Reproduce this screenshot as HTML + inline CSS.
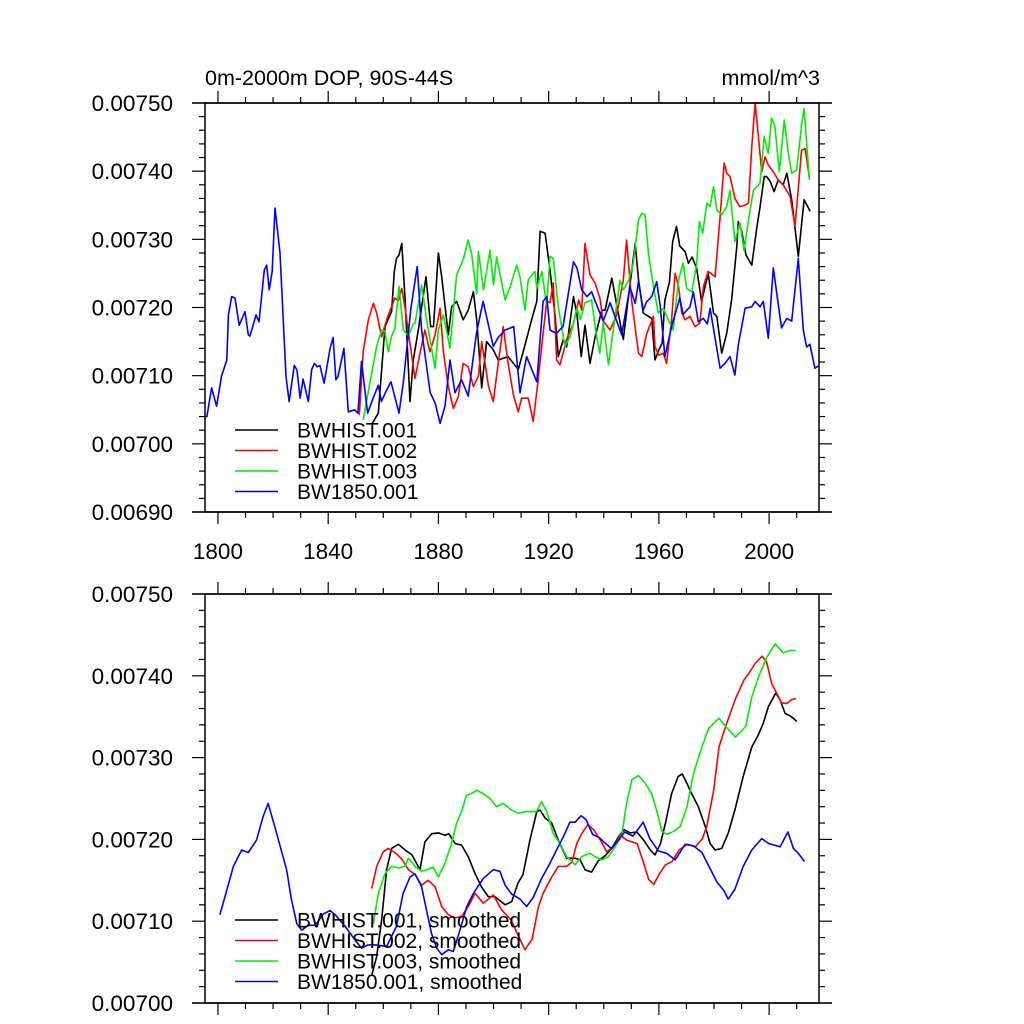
<!DOCTYPE html>
<html><head><meta charset="utf-8">
<style>
html,body{margin:0;padding:0;background:#fff;}
svg{display:block;font-family:"Liberation Sans",Arial,sans-serif;}
</style></head>
<body>
<svg id="chart" width="1024" height="1024" viewBox="0 0 1024 1024">
<text x="205" y="85" font-size="21.5">0m-2000m DOP, 90S-44S</text>
<text x="820" y="85" font-size="21.5" text-anchor="end">mmol/m^3</text>
</svg>
<script>
// values in units of 1e-5 mmol/m^3
const yearsB = [1795.3,1796,1797.7,1799.5,1801.3,1803.2,1803.8,1805,1806.2,1807.7,1809.8,1811,1811.6,1813.8,1814.9,1816.8,1817.7,1818.6,1819.7,1820.7,1822.5,1824.7,1825.8,1827.7,1828.7,1829.8,1830.9,1832.8,1834,1835,1836,1837,1838.5,1840.7,1841.8,1842.8,1843.6,1845.7,1847.3,1849.6,1850.8,1852.1,1854.3,1856.3,1858.2,1859.3,1861.1,1862.8,1865.7,1867.3,1870,1872.3,1873.9,1877,1878.8,1880.6,1882.4,1884.2,1886,1888.4,1890.8,1893.8,1896.2,1899.9,1901.7,1904.2,1907.3,1909.6,1912,1915.7,1918,1919.3,1920.5,1922.8,1925.2,1929,1930.3,1932,1933.9,1935.6,1937.4,1939.8,1942.3,1944.7,1946.5,1949.5,1951.4,1952.6,1954.3,1955.5,1957.4,1959.2,1960.5,1962.2,1964.6,1967.6,1968.8,1971.3,1972.5,1974.3,1976.1,1977.6,1978.6,1982.2,1984,1985.8,1987.6,1988.8,1991.3,1993.7,1994.9,1996.7,1997.9,1999.7,2001.5,2004.5,2006.4,2008.2,2010.6,2012.4,2013.6,2014.8,2016.6,2017.8];
const valsB = [704.0,704.0,708.2,705.5,709.9,712.3,718.9,721.6,721.4,717.4,719.4,716,715.8,718.9,717.9,725.5,726.2,722.6,725.3,734.6,728,709.9,706.2,711.5,710.8,706.7,709.5,706.2,710.9,711.8,711.3,711.5,708.9,714,715.6,709.4,709.9,714,704.7,705,704.5,712.1,704.5,706.7,708.6,706.2,707.8,709.1,704.5,709.1,719.9,726,716.7,707.5,706,703,705.5,712.3,707.5,709.4,707,716.2,720.9,714.3,715.6,716.7,717.2,707.5,712.8,709.1,720.9,721.6,716.7,716.2,717.2,726.7,725.8,722.6,721.6,722.3,720.4,718,720.7,718,716,723,720.6,723.8,719.6,720.8,721.6,723.8,720.1,712.8,717.2,721.4,719,720.1,722.3,717.9,718.4,717.6,719.9,711.1,711.8,712.8,710.1,714.5,719.9,720.1,720.9,720.1,720.9,715.5,725.8,717,718.4,718,727.2,716.7,714.2,714.6,711.1,711.4];
const years1 = [1856,1858.2,1860.6,1863,1864,1864.8,1865.7,1866.7,1867.9,1869.7,1870.9,1872.7,1875.5,1877.2,1878.2,1880,1881.2,1883.6,1884.8,1886.6,1889,1890.8,1892.7,1893.9,1895.7,1897.5,1899.9,1901.7,1905.3,1909,1911.4,1913.8,1915.7,1916.9,1918.7,1920.5,1922.3,1923.5,1925.3,1926.5,1929,1930.3,1931.8,1933.2,1935,1936.8,1939.3,1940.5,1942.9,1944.7,1947.1,1948.9,1951.4,1952.6,1954.3,1957.4,1958.6,1960,1961.2,1962.2,1963.8,1965,1966.4,1967.6,1969.5,1970.7,1972,1973.7,1975.5,1977.9,1979.8,1981,1982.8,1984.6,1986.4,1988.3,1988.8,1990.1,1991.6,1993.7,1995.5,1996.7,1998.2,1999.1,2000.4,2001.8,2003.3,2005.1,2006.4,2008.2,2010.6,2012.7,2014.9];
const vals1 = [703,704.5,717.2,719.4,725.3,727.2,727.7,729.4,721.1,706.2,712.3,716.7,724.5,717.2,717.2,728,724.5,716,720.1,720.9,718.2,719.6,722.3,718.2,708.2,715,713.8,712.3,712.8,710.9,714.5,718.2,720.9,731.2,730.9,725.5,718.9,712.8,715.3,714.2,721.6,718.9,712.8,717.4,711.8,715.6,719.6,719.6,724.3,720.4,715.3,721.4,729.4,724.1,719.2,718.4,712.3,713.8,714.8,721.1,723.7,729.7,731.9,729,728.2,726.5,727.4,725.8,720.9,725,719.2,718.7,713.3,716.2,721.1,729.1,732.6,731.1,727.7,726.2,731.6,734.7,739.2,739.2,738.5,737,738.7,738,739.7,735.8,727.5,735.8,734.1];
const years2 = [1851.3,1852.7,1854.6,1856.4,1857.6,1859.4,1860.6,1861.8,1864.2,1865.4,1866.7,1867.9,1869.7,1871.5,1873.3,1875.1,1876.9,1878.8,1880.6,1881.8,1883.6,1885.4,1887.2,1889,1890.8,1892.7,1894.5,1895.7,1898.2,1899.9,1901.7,1903.5,1905.3,1907.2,1909,1910.2,1912.6,1914.4,1916.2,1918,1919.3,1920.5,1921.7,1922.9,1924.1,1926.5,1929,1930.9,1932,1933.2,1935,1936.8,1938.6,1939.8,1942.3,1944.7,1947.1,1948.3,1950.1,1952.6,1953.8,1955.6,1958,1958.6,1960,1961.6,1962.8,1964.6,1965.9,1967.1,1968.3,1969.5,1971.3,1973.1,1974.9,1976.1,1977.9,1980.4,1982.2,1983.7,1984.6,1985.8,1987.6,1989.4,1991.2,1992.5,1993.7,1994.9,1996.1,1997.3,1998.5,1999.7,2001.5,2003.3,2005.1,2007.6,2009.4,2011.8,2013.1,2014.6];
const vals2 = [704.2,713.5,718.2,720.6,719.2,715.7,717.4,718.9,721.4,721,722.8,719.9,714.7,709.6,713.3,716.7,713.5,716,719.9,713.5,708.4,705.2,706.9,711.8,711.3,708.4,709.9,715,708.4,706.2,711.8,717.2,711.8,707.2,704.7,706.7,706.7,703.3,709.4,716.2,720.9,720.7,723.6,712.3,711.6,715.3,717.7,721.1,719.6,729.4,724.8,723.6,721.4,718,716.7,718.9,724,729.9,721.1,713.3,712.8,716.2,718.7,714.2,713,713.3,711.8,718.2,725,723.1,719.2,718.2,718.7,717.2,717.7,723,725.3,724.5,733.3,741.2,739.7,739.2,736,734.8,735,735.3,743.6,750,745.1,739.9,742.1,740.9,739.9,738.7,738,736.3,731.9,743.1,743.3,739];
const years3 = [1852.7,1855.2,1857.6,1859.4,1860.6,1861.8,1863,1864.2,1865.7,1867.3,1869.1,1870.9,1871.5,1873.9,1875.7,1877.6,1878.8,1880,1881.8,1884.2,1886.6,1889,1890.8,1892,1893.9,1894.5,1896.4,1898.7,1900,1901.1,1904.2,1906.1,1908.4,1909.6,1911.4,1912.6,1915,1915.7,1917.5,1919.3,1920.5,1921.7,1923.5,1925.9,1927.8,1930.3,1931.5,1933.2,1935.6,1937.4,1938.6,1939.8,1941.7,1944.1,1945.9,1947.1,1948.9,1950.7,1952.6,1953.8,1955,1956.2,1958,1959.8,1961.6,1963.4,1965.2,1967.1,1968.8,1970.1,1971.9,1973.7,1974.7,1975.9,1977.4,1978.6,1979.8,1981,1982.8,1984.6,1985.8,1987.6,1989.4,1990.9,1992.5,1994.3,1996.7,1998.2,1999.7,2000.9,2002.1,2003.7,2005.5,2007,2008.2,2010,2011.8,2012.7,2014.6];
const vals3 = [703.5,709.1,714.3,716.7,716.5,713.5,715.8,716.9,723.1,716.7,715.8,717.6,717.7,723.3,718.2,713.8,711.1,716.7,718.9,714,724.8,727,729.9,728,722,728.2,722.6,728.4,723.3,727.4,721.1,723.1,726.2,724.5,719.6,724.1,725.3,722.8,725.3,720.4,727.5,727.2,720.1,714.3,715.7,719.9,718.2,720.7,721.1,715.7,713.3,717.7,711.6,718.7,724,722.6,723.8,726.5,732.8,733.8,733.6,728,723.1,719.2,719.9,718.2,716.7,724,726.5,722.8,722.3,726.2,732.6,730.9,735.3,734.8,737.7,734.3,733.6,734.8,737.2,729.7,732.4,728.4,732.8,737.2,738.2,745.1,742.6,747.8,746.6,739.9,747.5,742.6,739.7,740.2,746.8,749.2,738.7];
// smoothed series
const sYearsB = [1800.7,1803.2,1805.6,1808.6,1811,1814,1816.4,1818.2,1820.6,1824.9,1826.7,1828.6,1830.4,1832.8,1835.3,1838.3,1840.7,1842.5,1846.1,1849.1,1852.1,1854.5,1857.6,1861.2,1864.8,1867.2,1869.7,1871.5,1873.9,1875.7,1877.5,1879.4,1881.2,1883.6,1885.4,1887.8,1890.3,1892.7,1896.2,1899.9,1902.3,1904.2,1906.6,1909.6,1912,1914.4,1917.4,1920.5,1922.9,1925.3,1927.7,1929.6,1931.8,1933.6,1936,1938.5,1940.3,1942.7,1945.2,1947.6,1950.6,1954.3,1956.7,1959.8,1962.8,1965.9,1969.5,1972.6,1975.6,1977.9,1981,1983.5,1985.2,1987.6,1990.6,1993.7,1997.3,1999.8,2004,2006.8,2008.8,2010.6,2012.8];
const sValsB = [710.8,713.8,716.7,718.7,718.4,719.9,722.8,724.4,721.6,716.3,712.6,709.7,708.9,709.5,709.5,710.9,711.3,710.8,709.4,708,706.7,707.1,707.1,706.9,709.4,713.4,715.4,715.8,714.2,711.3,708.5,706.7,705.9,706.5,706.3,708.9,711.8,713.4,715.2,716.3,716.1,714.4,713.3,712.7,711.8,712.9,715.2,717.1,718.7,720.3,722.1,722.1,722.9,722.4,720.6,720.2,719.6,718.9,719.8,720.9,720.4,722.1,720.1,718.6,718.3,717.5,719.4,719.2,718.4,716.9,714.8,713.8,712.7,713.9,716.7,718.7,720.1,719.5,719.1,720.9,718.9,718.3,717.3];
const sYears1 = [1855.9,1857.6,1859.4,1861.2,1863,1865.5,1867.9,1870.4,1873.3,1875.1,1877.6,1880,1882.4,1883.8,1886,1888.4,1890.8,1893.2,1895.6,1898.1,1900.5,1904.2,1906.6,1908.9,1910.7,1913.2,1915.7,1916.9,1918.7,1921.1,1923.5,1926.5,1929.6,1931.4,1933.2,1935.6,1938,1940.5,1942.9,1945.3,1947.4,1949.6,1952,1954.5,1956.9,1958.6,1960.6,1962.4,1964.6,1967,1968.5,1970.1,1971.9,1974.3,1976.8,1978.6,1980.4,1982.8,1985.2,1987.6,1990.6,1993.7,1996.1,1997.9,1999.7,2002.4,2003.9,2005.8,2007.6,2008.8,2010];
const sVals1 = [703.5,705.7,710.1,716.3,718.9,719.4,718.7,718.1,716.3,719.7,720.7,720.8,720.5,720.7,719.5,719.3,717.9,715.9,714.2,713,713,712,712.4,714.7,715.7,719.9,723.4,723.6,722.6,722,719.9,717.7,717.7,717.5,716.3,716,717.4,718,718.9,720.3,721.2,720.8,720.9,719.9,718.7,718.1,719.5,722,725.6,727.7,728,726.9,725.6,724,721.6,719.5,718.7,718.9,720.8,723.6,727.7,731.3,732.8,734.2,736.2,737.9,737.1,735.4,735.1,734.8,734.4];
const sYears2 = [1855.8,1857.6,1860,1861.8,1864.2,1866.7,1869.1,1871.5,1873.9,1876.3,1878.8,1881.2,1883.6,1886,1888.4,1890.8,1893.3,1896.3,1899.9,1902.9,1906.5,1909,1911.4,1914,1916.3,1918,1921.1,1923.5,1926.5,1928.4,1930.2,1932,1934.2,1936.3,1938.8,1941.1,1943.6,1946,1948.4,1952.1,1954.5,1956.3,1958.2,1960,1962.4,1964.8,1967.3,1970.3,1973.3,1975.8,1977.4,1979.9,1981.8,1984.2,1987.8,1990.9,1992.7,1994.9,1997.5,1999.1,2000.9,2002.7,2004.5,2006.4,2008.2,2009.7];
const sVals2 = [714,716.7,718.5,718.9,718.4,717.6,716.3,715.7,714.4,715,714.2,711.8,710.8,710.4,710.6,711.8,713.4,712.2,713.2,711.4,710.1,708.2,706.5,707.8,711.8,713.4,715.4,716.7,716.7,717.2,719.5,720.7,721.8,721.2,719.9,718.5,719.1,720.5,719.9,719.5,717.1,715.1,714.5,715.7,716.9,717.3,718.7,719.4,719.1,720.1,721.6,726,731.3,733.8,737.2,739.5,740.3,741.5,742.4,741.7,739.1,737.9,736.7,736.6,737.1,737.2];
const sYears3 = [1856.4,1858.2,1860.6,1863,1865.5,1867.9,1869.1,1871.5,1873.9,1875.7,1878.1,1880,1882.4,1884.8,1886.6,1888.4,1890.2,1892,1893.9,1896.3,1898.7,1901.1,1903.5,1906.5,1909,1912,1915.6,1917.4,1919.3,1921.7,1924.1,1926.5,1928.4,1929.6,1932,1935,1936.8,1939.3,1941.7,1944.1,1946.6,1948.3,1950.2,1952.6,1955,1957.4,1959.3,1961.1,1962.9,1965.4,1967.8,1970.2,1972.6,1975.6,1978.1,1981.8,1984.8,1987.8,1991.5,1993.7,1996.1,1999.2,2002.2,2005.2,2007.6,2009.7];
const sVals3 = [709.7,713.4,715.8,716.7,716.5,716.7,717.7,716.7,716.1,716.3,716.6,715.4,717.1,719.5,722,723.4,725.4,725.6,726,725.6,725,724,724.4,723.6,723.2,723.4,723.4,724.6,723.4,720.7,719.5,717.9,717.3,716.9,717.9,718.3,717.9,717.5,717.9,719.1,720.7,724.4,727.3,727.8,726.9,725.6,723.4,721,720.6,721,721.6,724,728.1,731.3,733.6,734.8,733.6,732.5,733.8,737.4,739.8,742.3,743.9,742.8,743.1,743.1];
const xTicks = [1800,1840,1880,1920,1960,2000];
const xTickLabels = ["1800","1840","1880","1920","1960","2000"];
const yTicksTop = [690,700,710,720,730,740,750];
const yTickLabelsTop = ["0.00690","0.00700","0.00710","0.00720","0.00730","0.00740","0.00750"];
const yTicksBot = [700,710,720,730,740,750];
const yTickLabelsBot = ["0.00700","0.00710","0.00720","0.00730","0.00740","0.00750"];
const legendTop = ["BWHIST.001","BWHIST.002","BWHIST.003","BW1850.001"];
const legendBot = ["BWHIST.001, smoothed","BWHIST.002, smoothed","BWHIST.003, smoothed","BW1850.001, smoothed"];
const colors = ["#000000","#ff0000","#00ee00","#0000ff"];

const NS="http://www.w3.org/2000/svg";
const svg=document.getElementById('chart');
function mk(tag,attrs,parent){const e=document.createElementNS(NS,tag);for(const k in attrs)e.setAttribute(k,attrs[k]);(parent||svg).appendChild(e);return e;}
const X0=205,X1=819,XMIN=1795.3,XMAX=2018.1;
function xs(yr){return X0+(yr-XMIN)/(XMAX-XMIN)*(X1-X0);}

function panel(name,top,bot,vmin,vmax,yTicks,yLabels,showX,series,legend,legY){
  const g=mk('g',{});
  
  
  const ys=v=>bot-(v-vmin)/(vmax-vmin)*(bot-top);
  const clip=mk('clipPath',{id:name+'-clip'},g);
  mk('rect',{x:X0,y:top,width:X1-X0,height:bot-top},clip);
  series.forEach((s,i)=>{
    const d=s[0].map((yr,j)=>(j?'L':'M')+xs(yr).toFixed(1)+','+ys(s[1][j]).toFixed(1)).join('');
    const p=mk('path',{d:d,fill:'none',stroke:colors[i],'stroke-width':1.6,'stroke-linejoin':'round','clip-path':'url(#'+name+'-clip)'},g);
    
    
  });
  const fr=mk('rect',{x:X0,y:top,width:X1-X0,height:bot-top,fill:'none',stroke:'#000','stroke-width':1.5},g);
  
  
  for(let yr=1800;yr<=2010;yr+=10){
    const major=xTicks.includes(yr);const x=xs(yr);const L=major?12:6;
    mk('line',{x1:x,y1:bot,x2:x,y2:bot+L,stroke:'#000','stroke-width':1.2},g);
    mk('line',{x1:x,y1:top,x2:x,y2:top-L,stroke:'#000','stroke-width':1.2},g);
  }
  mk('line',{x1:X0-13,y1:bot,x2:X1+13,y2:bot,stroke:'#000','stroke-width':1.5},g);
  mk('line',{x1:X0-13,y1:top,x2:X1+13,y2:top,stroke:'#000','stroke-width':1.5},g);
  if(showX){xTicks.forEach((yr,i)=>{const t=mk('text',{x:xs(yr),y:bot+47,'font-size':22.5,'text-anchor':'middle'},g);t.textContent=xTickLabels[i];
    
    });}
  for(let v=vmin;v<=vmax+0.01;v+=2){
    const major=Math.abs(Math.round(v/10)*10-v)<0.01;const y=ys(v);const L=major?13:6;
    mk('line',{x1:X0,y1:y,x2:X0-L,y2:y,stroke:'#000','stroke-width':1.2},g);
    mk('line',{x1:X1,y1:y,x2:X1+L,y2:y,stroke:'#000','stroke-width':1.2},g);
  }
  yTicks.forEach((v,i)=>{const t=mk('text',{x:173,y:ys(v)+8,'font-size':22.5,'text-anchor':'end'},g);t.textContent=yLabels[i];
    
    });
  legend.forEach((lab,i)=>{const y=legY+i*20.5;
    const ln=mk('line',{x1:235,y1:y,x2:278,y2:y,stroke:colors[i],'stroke-width':1.6},g);
    
    
    const t=mk('text',{x:297,y:y+7.5,'font-size':21},g);t.textContent=lab;
    
    });
}
panel('top-panel',103,512,690,750,yTicksTop,yTickLabelsTop,true,
  [[years1,vals1],[years2,vals2],[years3,vals3],[yearsB,valsB]],legendTop,430);
panel('bottom-panel',594,1003,700,750,yTicksBot,yTickLabelsBot,false,
  [[sYears1,sVals1],[sYears2,sVals2],[sYears3,sVals3],[sYearsB,sValsB]],legendBot,920);
</script>
</body></html>
